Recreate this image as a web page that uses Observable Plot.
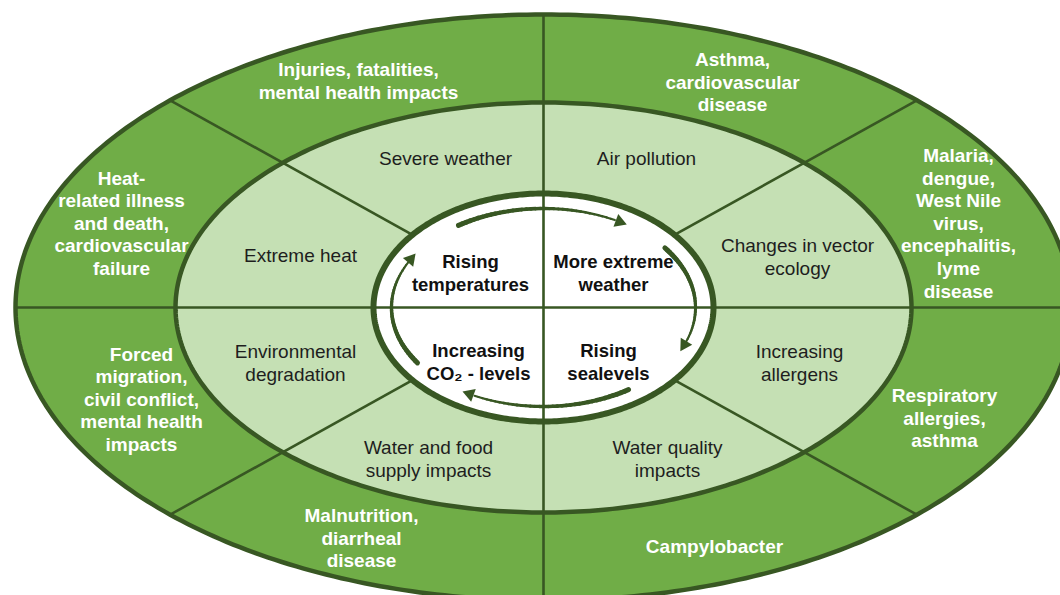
<!DOCTYPE html>
<html>
<head>
<meta charset="utf-8">
<script src="https://cdn.jsdelivr.net/npm/d3@7"></script>
<script src="https://cdn.jsdelivr.net/npm/@observablehq/plot@0.6"></script>
<style>
  html, body { margin: 0; padding: 0; background: white; overflow: hidden; }
  svg { overflow: hidden; display: block; }
</style>
</head>
<body>
<div id="chart"></div>
<script>
// ---------- DATA (text content) ----------
const outerLabels = [
  "Injuries, fatalities,\nmental health impacts",
  "Asthma,\ncardiovascular\ndisease",
  "Malaria,\ndengue,\nWest Nile\nvirus,\nencephalitis,\nlyme\ndisease",
  "Respiratory\nallergies,\nasthma",
  "Campylobacter",
  "Malnutrition,\ndiarrheal\ndisease",
  "Forced\nmigration,\ncivil conflict,\nmental health\nimpacts",
  "Heat-\nrelated illness\nand death,\ncardiovascular\nfailure"
];
const middleLabels = [
  "Severe weather",
  "Air pollution",
  "Changes in vector\necology",
  "Increasing\nallergens",
  "Water quality\nimpacts",
  "Water and food\nsupply impacts",
  "Environmental\ndegradation",
  "Extreme heat"
];
const innerLabels = [
  "Rising\ntemperatures",
  "More extreme\nweather",
  "Rising\nsealevels",
  "Increasing\nCO\u2082 - levels"
];

// ---------- LAYOUT (geometry) ----------
const W = 1060, H = 595;
const cx = 543, cy = 307;
const outerE  = {rx: 528, ry: 293};
const middleE = {rx: 368, ry: 205};
const innerE  = {rx: 170, ry: 114};
const arrowE  = {rx: 152, ry: 99};
// arrow arcs, parametric angles in degrees (clockwise on screen)
const arrowArcs = [[-124, -58], [-37, 24], [56, 121], [146, 211]];
// label anchors
const outerAnchor  = [[358, 80], [732, 81], [958, 222], [944, 417], [714, 545], [361, 537], [141, 398], [121, 222]];
const middleAnchor = [[445, 157], [646, 157], [797, 256], [799, 362], [667, 458], [428, 458], [295, 362], [300, 254]];
const innerAnchor  = [[470, 272], [613, 272], [608, 361], [478, 361]];

const C = {outer: "#70ad47", middle: "#c5e0b4", inner: "#ffffff", line: "#385723"};
const font = "Liberation Sans, Arial, Helvetica, sans-serif";

// ---------- helpers ----------
const rad = d => d * Math.PI / 180;
function ellipse(e, n = 400) {
  return d3.range(n + 1).map(i => {
    const t = 2 * Math.PI * i / n;
    return {x: cx + e.rx * Math.cos(t), y: cy + e.ry * Math.sin(t)};
  });
}
// division lines
const divisions = [
  {x1: cx - outerE.rx, y1: cy, x2: cx + outerE.rx, y2: cy},
  {x1: cx, y1: cy - outerE.ry, x2: cx, y2: cy + outerE.ry}
];
{
  const sIn = 1 / Math.sqrt((outerE.rx / innerE.rx) ** 2 + (outerE.ry / innerE.ry) ** 2);
  for (const [sx, sy] of [[-1, -1], [1, -1], [1, 1], [-1, 1]]) {
    divisions.push({
      x1: cx + sx * outerE.rx * Math.SQRT1_2, y1: cy + sy * outerE.ry * Math.SQRT1_2,
      x2: cx + sx * outerE.rx * sIn, y2: cy + sy * outerE.ry * sIn
    });
  }
}
// tapered arrow segments + heads
const arrowSegs = [], arrowHeads = [];
for (const [a0, a1] of arrowArcs) {
  const N = 36;
  const t0 = rad(a0), t1 = rad(a1 - 4);
  for (let i = 0; i < N; i++) {
    const ta = t0 + (t1 - t0) * i / N, tb = t0 + (t1 - t0) * (i + 1) / N;
    arrowSegs.push({
      x1: cx + arrowE.rx * Math.cos(ta), y1: cy + arrowE.ry * Math.sin(ta),
      x2: cx + arrowE.rx * Math.cos(tb), y2: cy + arrowE.ry * Math.sin(tb),
      w: 5 - 3 * i / N
    });
  }
  const te = rad(a1 - 2);
  const ang = Math.atan2(arrowE.ry * Math.cos(te), -arrowE.rx * Math.sin(te)) * 180 / Math.PI;
  arrowHeads.push({x: cx + arrowE.rx * Math.cos(te), y: cy + arrowE.ry * Math.sin(te), rot: ang + 90});
}

const outerData  = outerLabels.map((label, i) => ({label, x: outerAnchor[i][0], y: outerAnchor[i][1]}));
const middleData = middleLabels.map((label, i) => ({label, x: middleAnchor[i][0], y: middleAnchor[i][1]}));
const innerData  = innerLabels.map((label, i) => ({label, x: innerAnchor[i][0], y: innerAnchor[i][1]}));

const plot = Plot.plot({
  width: W, height: H, margin: 0,
  x: {domain: [0, W], range: [0, W], axis: null},
  y: {domain: [0, H], range: [0, H], axis: null},
  style: {background: "white", overflow: "hidden"},
  marks: [
    Plot.line(ellipse(outerE), {x: "x", y: "y", fill: C.outer, stroke: "none", curve: "linear"}),
    Plot.line(ellipse(middleE), {x: "x", y: "y", fill: C.middle, stroke: "none", curve: "linear"}),
    Plot.line(ellipse(innerE), {x: "x", y: "y", fill: C.inner, stroke: "none", curve: "linear"}),
    Plot.link(divisions, {x1: "x1", y1: "y1", x2: "x2", y2: "y2", stroke: C.line, strokeWidth: 2.6}),
    Plot.line(ellipse(outerE), {x: "x", y: "y", stroke: C.line, strokeWidth: 4.5, curve: "linear"}),
    Plot.line(ellipse(middleE), {x: "x", y: "y", stroke: C.line, strokeWidth: 4.5, curve: "linear"}),
    Plot.line(ellipse(innerE), {x: "x", y: "y", stroke: C.line, strokeWidth: 6, curve: "linear"}),
    Plot.link(arrowSegs, {x1: "x1", y1: "y1", x2: "x2", y2: "y2", stroke: C.line, strokeWidth: "w", strokeLinecap: "round"}),
    Plot.dot(arrowHeads, {x: "x", y: "y", symbol: "triangle", r: 5, fill: C.line, stroke: "none", rotate: "rot"}),
    Plot.text(outerData, {x: "x", y: "y", text: "label", fill: "white", fontWeight: "bold", fontSize: 19,
      lineHeight: 1.19, fontFamily: font, textAnchor: "middle", lineAnchor: "middle"}),
    Plot.text(middleData, {x: "x", y: "y", text: "label", fill: "#1e1e1e", fontSize: 19,
      lineHeight: 1.2, fontFamily: font, textAnchor: "middle", lineAnchor: "middle"}),
    Plot.text(innerData, {x: "x", y: "y", text: "label", fill: "#111", fontWeight: "bold", fontSize: 18.5,
      lineHeight: 1.25, fontFamily: font, textAnchor: "middle", lineAnchor: "middle"})
  ]
});
document.getElementById("chart").appendChild(plot);
</script>
</body>
</html>
